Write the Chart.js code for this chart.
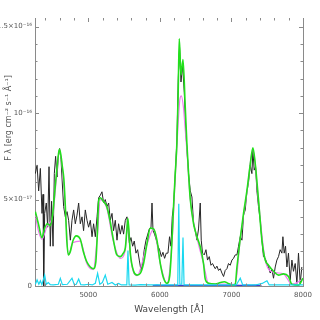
<!DOCTYPE html>
<html>
<head>
<meta charset="utf-8">
<script src="https://cdn.jsdelivr.net/npm/chart.js@4/dist/chart.umd.min.js"></script>
<style>
  html, body { margin: 0; padding: 0; background: #fff; }
  #wrap { width: 320px; height: 320px; }
</style>
</head>
<body>
<div id="wrap"><canvas id="spectrum-chart"></canvas></div>
<script>
// flux in units of 1e-17 erg cm^-2 s^-1 A^-1, wavelength in Angstrom
const obsWave = [4260, 4284, 4306, 4330, 4353, 4367, 4376, 4390, 4413, 4432, 4451, 4469, 4487, 4507, 4525, 4543, 4563, 4581, 4599, 4619,
  4637, 4655, 4679, 4703, 4725, 4749, 4772, 4795, 4818, 4842, 4865, 4888, 4912, 4934, 4958, 4982, 5004, 5028, 5052, 5074,
  5098, 5122, 5144, 5168, 5191, 5214, 5237, 5261, 5284, 5307, 5331, 5353, 5377, 5401, 5423, 5447, 5471, 5493, 5517, 5540,
  5554, 5573, 5596, 5619, 5642, 5666, 5689, 5712, 5736, 5758, 5782, 5806, 5828, 5852, 5876, 5890, 5904, 5926, 5950, 5973,
  5996, 6020, 6043, 6066, 6089, 6113, 6135, 6155, 6173, 6191, 6215, 6239, 6257, 6275, 6295, 6317, 6341, 6364, 6383, 6401,
  6425, 6448, 6471, 6494, 6518, 6540, 6564, 6578, 6596, 6620, 6644, 6666, 6690, 6714, 6736, 6760, 6774, 6797, 6820, 6844,
  6867, 6890, 6913, 6937, 6959, 6983, 7007, 7029, 7053, 7077, 7099, 7123, 7147, 7169, 7193, 7216, 7239, 7262, 7286, 7300,
  7318, 7337, 7356, 7378, 7402, 7426, 7448, 7472, 7496, 7518, 7542, 7566, 7588, 7612, 7635, 7658, 7681, 7705, 7719, 7737,
  7756, 7775, 7797, 7821, 7845, 7867, 7891, 7915, 7937, 7961, 7984];
const obsFlux = [6.5, 7.0, 5.5, 6.8, 4.2, 5.3, 0.0, 4.2, 4.8, 3.4, 6.9, 2.3, 4.9, 2.3, 6.5, 7.5, 6.3, 7.5, 7.95, 7.3,
  5.9, 4.6, 4.0, 4.3, 3.8, 2.65, 3.8, 4.4, 3.6, 4.1, 4.8, 3.6, 4.0, 3.2, 4.4, 3.8, 3.4, 3.8, 2.85, 3.6,
  2.85, 4.0, 5.1, 5.25, 5.45, 4.8, 5.0, 4.6, 4.8, 3.8, 4.2, 3.2, 3.8, 2.65, 3.6, 3.0, 3.5, 3.0, 3.8, 4.0,
  3.3, 2.5, 2.8, 2.3, 2.6, 1.9, 2.1, 1.5, 0.9, 1.3, 2.1, 2.65, 2.95, 3.3, 3.4, 4.8, 3.2, 3.0, 2.65, 2.3,
  2.1, 1.7, 1.95, 1.6, 1.9, 1.9, 2.85, 2.3, 4.0, 4.6, 6.5, 8.5, 12.0, 13.8, 11.8, 12.8, 11.2, 8.8, 7.6, 6.5,
  5.5, 5.15, 3.6, 3.2, 2.65, 3.3, 4.8, 2.65, 1.9, 1.8, 2.1, 1.5, 1.7, 1.2, 1.3, 1.1, 1.0, 1.15, 0.9, 1.0,
  0.75, 0.55, 0.9, 1.0, 1.3, 1.2, 1.5, 1.6, 1.8, 1.8, 2.3, 2.85, 2.65, 4.1, 4.4, 5.45, 6.0, 7.0, 6.5, 7.85,
  6.7, 6.9, 5.5, 4.6, 3.8, 2.65, 1.7, 1.6, 1.3, 1.1, 0.75, 0.95, 0.45, 1.1, 1.5, 1.7, 2.1, 1.9, 2.85, 1.9,
  2.3, 1.1, 1.9, 0.35, 1.5, 0.85, 1.3, 0.15, 1.9, 0.15, 1.1];

const fitWave = [4260, 4302, 4353, 4386, 4427, 4469, 4504, 4539, 4574, 4595, 4616, 4637, 4658, 4679, 4700, 4721, 4749, 4784, 4832, 4888,
  4930, 4979, 5028, 5070, 5105, 5126, 5144, 5168, 5209, 5258, 5307, 5349, 5398, 5447, 5489, 5517, 5538, 5552, 5566, 5587,
  5633, 5680, 5726, 5772, 5820, 5866, 5912, 5959, 6006, 6052, 6099, 6138, 6169, 6191, 6215, 6239, 6257, 6271, 6295, 6323,
  6355, 6378, 6401, 6425, 6471, 6518, 6564, 6610, 6634, 6680, 6774, 6844, 6899, 6955, 7011, 7053, 7077, 7123, 7169, 7216,
  7262, 7300, 7332, 7378, 7426, 7472, 7518, 7588, 7658, 7728, 7797, 7845, 7937, 7999];
const fitFlux = [4.3, 3.6, 2.8, 3.3, 3.6, 3.5, 4.2, 5.8, 7.3, 7.9, 7.6, 6.9, 6.2, 4.6, 2.6, 1.8, 2.0, 2.6, 2.9, 2.7,
  2.0, 1.4, 1.1, 1.0, 1.4, 3.0, 4.9, 5.1, 4.9, 4.6, 3.7, 2.7, 1.8, 1.7, 1.9, 2.2, 3.2, 3.9, 3.3, 1.9,
  0.85, 0.63, 0.73, 1.3, 2.45, 3.35, 3.3, 2.65, 1.3, 0.45, 0.16, 0.6, 2.6, 4.6, 6.5, 8.4, 11.5, 14.3, 12.2, 13.1,
  10.3, 8.2, 6.5, 5.0, 3.6, 2.85, 2.27, 1.3, 0.4, 0.16, 0.12, 0.2, 0.25, 0.15, 0.06, 0.1, 1.1, 2.75, 4.2, 5.5,
  7.0, 8.0, 7.1, 5.0, 2.65, 1.5, 1.2, 0.85, 0.63, 0.7, 0.55, 0.1, 0.05, 0.45];

const altWave = [4260, 4302, 4353, 4427, 4504, 4574, 4595, 4637, 4679, 4721, 4784, 4888, 4979, 5070, 5126, 5168, 5258, 5349, 5447, 5517,
  5552, 5587, 5680, 5820, 5912, 6006, 6099, 6169, 6215, 6250, 6280, 6300, 6330, 6355, 6378, 6425, 6518, 6610, 6680, 7053,
  7123, 7216, 7300, 7378, 7472, 7588, 7728, 7845, 7999];
const altFlux = [4.1, 3.2, 2.7, 3.5, 4.1, 7.2, 7.8, 6.8, 4.5, 1.8, 2.5, 2.6, 1.3, 0.95, 2.9, 5.0, 4.5, 2.6, 1.6, 2.1,
  3.8, 1.8, 0.6, 2.4, 3.3, 1.3, 0.15, 2.5, 6.3, 9.0, 10.8, 11.0, 10.3, 9.0, 7.8, 5.0, 2.8, 1.3, 0.15, 0.1,
  2.7, 5.4, 7.9, 4.9, 1.5, 0.8, 0.7, 0.1, 0.4];

const resWave = [4260, 4284, 4309, 4330, 4351, 4390, 4413, 4441, 4469, 4511, 4581, 4609, 4637, 4707, 4772, 4804, 4832, 4865, 4895, 4944,
  5000, 5056, 5098, 5130, 5161, 5196, 5237, 5272, 5331, 5377, 5423, 5461, 5538, 5554, 5570, 5656, 5726, 5866, 6006, 6145,
  6250, 6264, 6279, 6306, 6323, 6338, 6425, 6564, 6844, 7067, 7123, 7158, 7332, 7430, 7496, 7528, 7681, 7961, 7999];
const resFlux = [0.1, 0.35, 0.1, 0.3, 0.08, 0.63, 0.1, 0.2, 0.08, 0.06, 0.1, 0.44, 0.08, 0.1, 0.45, 0.08, 0.1, 0.4, 0.08, 0.06,
  0.1, 0.06, 0.15, 0.73, 0.1, 0.2, 0.63, 0.1, 0.2, 0.06, 0.15, 0.06, 0.06, 2.05, 0.06, 0.05, 0.08, 0.06, 0.06, 0.06,
  0.06, 4.75, 0.1, 0.1, 2.8, 0.06, 0.06, 0.06, 0.06, 0.06, 0.45, 0.06, 0.06, 0.15, 0.3, 0.06, 0.06, 0.06, 0.06];

const blueWave = [5900, 5960, 6020, 6080, 6960, 7040, 7120, 7200, 7280, 7360, 7420];
const blueFlux = [0.03, 0.05, 0.03, 0.04, 0.03, 0.05, 0.04, 0.05, 0.04, 0.05, 0.03];

const xMajor = [5000, 6000, 7000, 8000];
const xLabels = ['5000', '6000', '7000', '8000'];
const yMajor = [0, 5, 10, 15];
const yLabels = ['0', '5×10⁻¹⁷', '10⁻¹⁶', '1.5×10⁻¹⁶'];

function pts(w, f) {
  return w.map((v, i) => ({ x: v, y: f[i] }));
}

// inward ticks on all four sides, plus the right frame line and y title
const frameTicks = {
  id: 'frameTicks',
  afterDraw(chart) {
    const ctx = chart.ctx;
    const xs = chart.scales.x, ys = chart.scales.y;
    const a = chart.chartArea;
    ctx.save();
    ctx.strokeStyle = '#8a8a8a';
    ctx.lineWidth = 1;
    ctx.beginPath();
    ctx.moveTo(a.right + 0.5, a.top);
    ctx.lineTo(a.right + 0.5, a.bottom);
    for (let w = 4400; w <= 8000; w += 200) {
      const px = Math.round(xs.getPixelForValue(w)) + 0.5;
      const len = (w % 1000 === 0) ? 4 : 2.5;
      ctx.moveTo(px, a.top); ctx.lineTo(px, a.top + len);
      ctx.moveTo(px, a.bottom); ctx.lineTo(px, a.bottom - len);
    }
    for (let v = 0; v <= 15; v += 1) {
      const py = Math.round(ys.getPixelForValue(v)) + 0.5;
      const len = (v % 5 === 0) ? 4 : 2.5;
      ctx.moveTo(a.left, py); ctx.lineTo(a.left + len, py);
      ctx.moveTo(a.right, py); ctx.lineTo(a.right - len, py);
    }
    ctx.stroke();

    ctx.translate(9, 118);
    ctx.rotate(-Math.PI / 2);
    ctx.fillStyle = '#555';
    ctx.font = '8px "DejaVu Sans"';
    ctx.textAlign = 'center';
    ctx.textBaseline = 'middle';
    ctx.fillText('F λ [erg cm⁻² s⁻¹ Å⁻¹]', 0, 0);
    ctx.restore();
  }
};

const data = {
  datasets: [
    { label: 'residual', data: pts(resWave, resFlux), borderColor: '#19d8f0', borderWidth: 1.2, order: 0 },
    { label: 'fit', data: pts(fitWave, fitFlux), borderColor: '#22e01c', borderWidth: 1.6, order: 1,
      cubicInterpolationMode: 'monotone' },
    { label: 'alt', data: pts(altWave, altFlux), borderColor: '#f07af0', borderWidth: 1.2, order: 2,
      cubicInterpolationMode: 'monotone' },
    { label: 'observed', data: pts(obsWave, obsFlux), borderColor: '#262626', borderWidth: 1, order: 3 },
    { label: 'blue', data: pts(blueWave, blueFlux), borderColor: '#4040d0', borderWidth: 1.2, order: 4 }
  ]
};

const config = {
  type: 'line',
  data: data,
  options: {
    responsive: true,
    maintainAspectRatio: false,
    animation: false,
    events: [],
    layout: { padding: { top: 18, right: 17, left: 0, bottom: 0 } },
    elements: { point: { radius: 0 }, line: { fill: false } },
    plugins: { legend: { display: false }, tooltip: { enabled: false } },
    scales: {
      x: {
        type: 'linear',
        min: 4255,
        max: 8000,
        afterFit(s) { s.height = 34; },
        afterBuildTicks(s) { s.ticks = xMajor.map(v => ({ value: v })); },
        grid: { display: false, drawTicks: false },
        border: { display: true, color: '#8a8a8a', width: 1 },
        ticks: {
          padding: 5,
          color: '#555',
          font: { family: 'DejaVu Sans', size: 7 },
          maxRotation: 0,
          autoSkip: false,
          callback: (v) => xLabels[xMajor.indexOf(v)]
        },
        title: {
          display: true,
          text: 'Wavelength [Å]',
          color: '#444',
          font: { family: 'DejaVu Sans', size: 9 },
          padding: { top: 0, bottom: 5 }
        }
      },
      y: {
        type: 'linear',
        min: 0,
        max: 15.5,
        afterFit(s) { s.width = 35; },
        afterBuildTicks(s) { s.ticks = yMajor.map(v => ({ value: v })); },
        grid: { display: false, drawTicks: false },
        border: { display: true, color: '#8a8a8a', width: 1 },
        ticks: {
          padding: 3,
          color: '#555',
          font: { family: 'DejaVu Sans', size: 7 },
          autoSkip: false,
          callback: (v) => yLabels[yMajor.indexOf(v)]
        }
      }
    }
  },
  plugins: [frameTicks]
};

const ctx = document.getElementById('spectrum-chart').getContext('2d');
const chart = new Chart(ctx, config);
</script>
</body>
</html>
